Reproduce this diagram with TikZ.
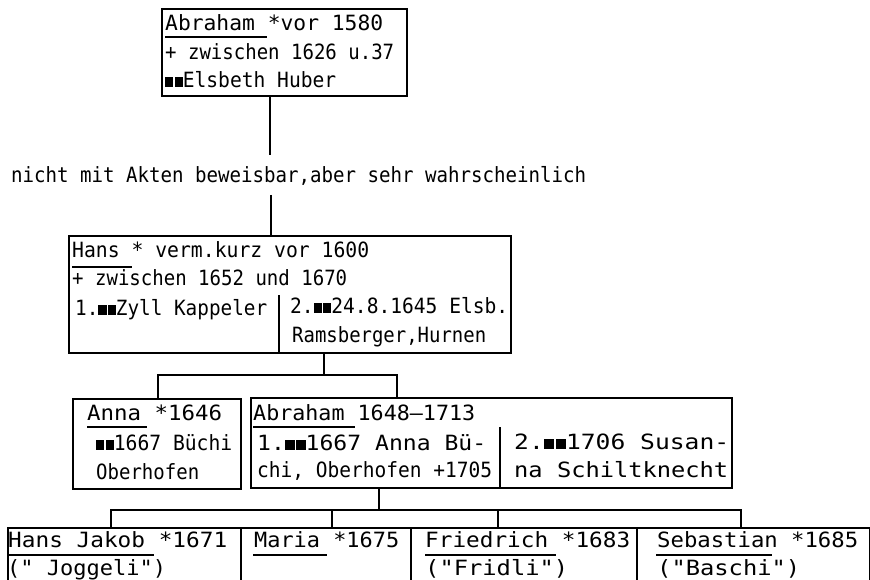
\documentclass[tikz,border=0pt]{standalone}
\usepackage{fontspec}
\setmonofont{DejaVu Sans Mono}
\usepackage{graphicx}
\newcommand\tfit[2]{\resizebox{#1pt}{\height}{#2}}
\newcommand\mm{\raisebox{0.03em}{\rule{0.42em}{0.46em}}\kern0.06em\raisebox{0.03em}{\rule{0.42em}{0.46em}}}
\begin{document}
\begin{tikzpicture}[x=1pt,y=-1pt,
  box/.style={draw,line width=1.8pt,inner sep=0pt,anchor=north west},
  txt/.style={anchor=west,inner sep=0pt,text height=15.5pt,text depth=0pt,font=\ttfamily\fontsize{21}{21}\selectfont},
  conn/.style={line width=1.8pt},
  uline/.style={line width=1.5pt}]
\useasboundingbox (0,0) rectangle (870,580);
\clip (0,0) rectangle (870,580);
\fill[white] (0,0) rectangle (870,580);

% top box
\node[box,minimum width=245,minimum height=87] (abr) at (161,8) {};
\node[txt] (a1) at (165,23) {\tfit{218}{Abraham *vor 1580}};
\node[txt] (a2) at (165,52) {\tfit{229}{+ zwischen 1626 u.37}};
\node[txt] (a3) at (165,80) {\tfit{171}{\mm Elsbeth Huber}};
\draw[uline] (165,37) -- (267,37);

% note
\node[txt] (note) at (11,175) {\tfit{575}{nicht mit Akten beweisbar,aber sehr wahrscheinlich}};

% Hans box
\node[box,minimum width=442,minimum height=117] (hans) at (68,235) {};
\node[txt] (h1) at (72,250) {\tfit{297}{Hans * verm.kurz vor 1600}};
\node[txt] (h2) at (72,278) {\tfit{275}{+ zwischen 1652 und 1670}};
\node[txt] (h3) at (75,308) {\tfit{192}{1.\mm Zyll Kappeler}};
\node[txt] (h4) at (290,306) {\tfit{218}{2.\mm 24.8.1645 Elsb.}};
\node[txt] (h5) at (292,335) {\tfit{194}{Ramsberger,Hurnen}};
\draw[uline] (72,267) -- (132,267);
\draw[conn] (279,295) -- (279,352);

% Anna box
\node[box,minimum width=168,minimum height=90] (anna) at (72,398) {};
\node[txt] (n1) at (87,413) {\tfit{135}{Anna *1646}};
\node[txt] (n2) at (96,443) {\tfit{136}{\mm 1667 Büchi}};
\node[txt] (n3) at (96,472) {\tfit{103}{Oberhofen}};
\draw[uline] (87,427) -- (147,427);

% Abraham (2) box
\node[box,minimum width=481,minimum height=90] (abr2) at (250,397) {};
\node[txt] (b1) at (253,413) {\tfit{222}{Abraham 1648–1713}};
\node[txt] (b2) at (257,443) {\tfit{229}{1.\mm 1667 Anna Bü-}};
\node[txt] (b3) at (257,470) {\tfit{235}{chi, Oberhofen +1705}};
\node[txt] (b4) at (514,442) {\tfit{215}{2.\mm 1706 Susan-}};
\node[txt] (b5) at (514,470) {\tfit{214}{na Schiltknecht}};
\draw[uline] (253,427) -- (355,427);
\draw[conn] (500,427) -- (500,487);

% bottom boxes
\node[box,minimum width=233,minimum height=70] (hj) at (7,527) {};
\node[box,minimum width=170,minimum height=70] (ma) at (240,527) {};
\node[box,minimum width=226,minimum height=70] (fr) at (410,527) {};
\node[box,minimum width=233,minimum height=70] (se) at (636,527) {};
\node[txt] (j1) at (8,540) {\tfit{219}{Hans Jakob *1671}};
\node[txt] (j2) at (7,568) {\tfit{159}{(" Joggeli")}};
\node[txt] (m1) at (254,540) {\tfit{145}{Maria *1675}};
\node[txt] (f1) at (425,540) {\tfit{205}{Friedrich *1683}};
\node[txt] (f2) at (425,568) {\tfit{143}{("Fridli")}};
\node[txt] (s1) at (657,540) {\tfit{201}{Sebastian *1685}};
\node[txt] (s2) at (657,568) {\tfit{143}{("Baschi")}};
\draw[uline] (8,555) -- (154,555);
\draw[uline] (253,555) -- (327,555);
\draw[uline] (425,555) -- (556,555);
\draw[uline] (656,555) -- (772,555);

% connectors
\coordinate (k1) at (270,155);
\draw[conn] (abr.south -| k1) -- (k1);
\coordinate (k2) at (271,195);
\draw[conn] (k2) -- (hans.north -| k2);
\coordinate (k3) at (324,375);
\coordinate (k3a) at (158,375);
\coordinate (k3b) at (397,375);
\draw[conn] (hans.south -| k3) -- (k3);
\draw[conn] (anna.north -| k3a) -- (k3a) -- (k3b) -- (abr2.north -| k3b);
\coordinate (k4) at (379,510);
\coordinate (k5a) at (111,510);
\coordinate (k5b) at (332,510);
\coordinate (k5c) at (498,510);
\coordinate (k5d) at (741,510);
\draw[conn] (abr2.south -| k4) -- (k4);
\draw[conn] (hj.north -| k5a) -- (k5a) -- (k5d) -- (se.north -| k5d);
\draw[conn] (k5b) -- (ma.north -| k5b);
\draw[conn] (k5c) -- (fr.north -| k5c);
\end{tikzpicture}
\end{document}
